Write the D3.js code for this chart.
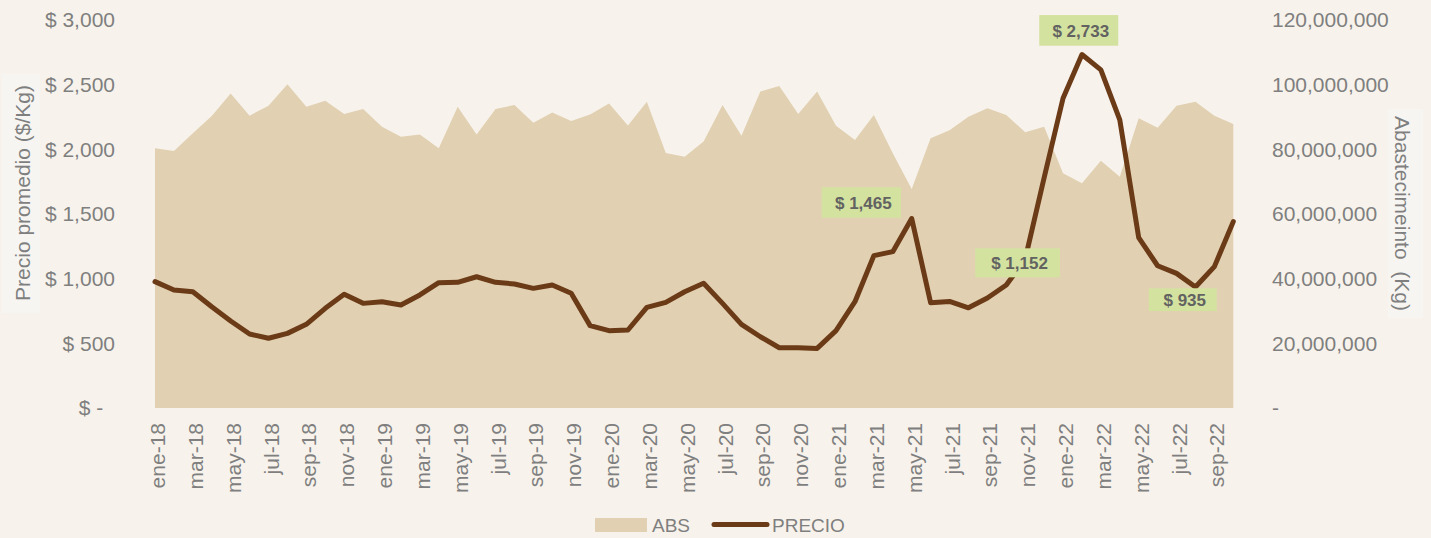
<!DOCTYPE html>
<html><head><meta charset="utf-8">
<script src="https://cdn.jsdelivr.net/npm/d3@7"></script>
<style>
body{margin:0;background:#f7f3ec;}
svg{display:block;font-family:"Liberation Sans",Arial,sans-serif;}
</style>
</head><body>
<svg id="c" width="1431" height="538"></svg>
<script>
// ---------- DATA ----------
const months = [
 "ene-18","feb-18","mar-18","abr-18","may-18","jun-18","jul-18","ago-18","sep-18","oct-18","nov-18","dic-18",
 "ene-19","feb-19","mar-19","abr-19","may-19","jun-19","jul-19","ago-19","sep-19","oct-19","nov-19","dic-19",
 "ene-20","feb-20","mar-20","abr-20","may-20","jun-20","jul-20","ago-20","sep-20","oct-20","nov-20","dic-20",
 "ene-21","feb-21","mar-21","abr-21","may-21","jun-21","jul-21","ago-21","sep-21","oct-21","nov-21","dic-21",
 "ene-22","feb-22","mar-22","abr-22","may-22","jun-22","jul-22","ago-22","sep-22","oct-22"];
const absKg = [
 80.3e6,79.5e6,85.0e6,90.3e6,97.3e6,90.4e6,93.5e6,100.1e6,93.2e6,95.0e6,90.9e6,92.5e6,
 87.0e6,83.9e6,84.6e6,80.3e6,93.2e6,84.6e6,92.5e6,93.7e6,88.2e6,91.4e6,88.8e6,90.8e6,
 94.2e6,87.4e6,94.7e6,78.9e6,77.7e6,82.4e6,93.7e6,84.2e6,97.9e6,99.6e6,90.9e6,97.9e6,
 87.3e6,82.9e6,90.6e6,78.8e6,67.7e6,83.4e6,85.9e6,90.1e6,92.7e6,90.6e6,85.3e6,87.0e6,
 72.6e6,69.5e6,76.5e6,71.5e6,89.6e6,86.7e6,93.5e6,94.7e6,90.4e6,87.8e6];
const precio = [
 977,912,899,783,673,572,539,577,647,771,879,809,
 822,796,874,969,972,1015,972,959,925,951,887,637,
 598,603,778,817,899,964,809,647,551,466,466,461,
 598,822,1178,1209,1465,814,824,775,850,951,1152,1780,
 2395,2733,2614,2227,1317,1100,1041,935,1093,1441];
const priceTicks = [0,500,1000,1500,2000,2500,3000];
const absTicks = [0,20e6,40e6,60e6,80e6,100e6,120e6];
const xTickLabels = months.filter((m,i)=>i%2===0);
const labelMonths = ["may-21","nov-21","feb-22","ago-22"];
const seriesNames = ["ABS","PRECIO"];
const yTitleLeft = "Precio promedio ($/Kg)";
const yTitleRight = "Abastecimeinto\u00a0\u00a0(Kg)";

// ---------- STYLE / LAYOUT ----------
const C = {bg:"#f7f3ec", area:"#e1d0b1", line:"#6b3a17", text:"#7f7f7f",
           labFill:"#d4e2a0", labText:"#626262", titleBox:"#f6f5f2"};
const labelBoxes = { // offsets of data-label boxes relative to their point
 "may-21":{x0:-90,x1:-10.7,y0:-31.2,y1:-0.8},
 "nov-21":{x0:-50,x1:34.7,y0:-10.7,y1:18.3},
 "feb-22":{x0:-42.7,x1:36.3,y0:-39.5,y1:-8.8},
 "ago-22":{x0:-46.7,x1:21.3,y0:1.2,y1:24}
};

const svg = d3.select("#c");
svg.append("rect").attr("width",1431).attr("height",538).attr("fill",C.bg);

const x = d3.scalePoint().domain(months).range([155,1233.3]);
const yP = d3.scaleLinear().domain([0,3000]).range([408,20]);
const yA = d3.scaleLinear().domain([0,120e6]).range([408,20]);

const data = months.map((m,i)=>({m, a:absKg[i], p:precio[i]}));

// area
svg.append("path").datum(data)
  .attr("d", d3.area().x(d=>x(d.m)).y0(yA(0)).y1(d=>yA(d.a)))
  .attr("fill", C.area);

// line
svg.append("path").datum(data)
  .attr("d", d3.line().x(d=>x(d.m)).y(d=>yP(d.p)))
  .attr("fill","none").attr("stroke",C.line).attr("stroke-width",5)
  .attr("stroke-linejoin","round").attr("stroke-linecap","round");

// left axis
const fmt = d3.format(",");
const gL = svg.append("g").attr("transform","translate(115,0)")
  .call(d3.axisLeft(yP).tickValues(priceTicks).tickSize(0).tickPadding(0)
    .tickFormat(v=> v===0 ? "$ -\u00a0\u00a0" : "$ "+fmt(v)));
gL.select(".domain").remove();
gL.selectAll("text").attr("font-size",21).attr("fill",C.text)
  .attr("font-family","'Liberation Sans',Arial,sans-serif");

// right axis
const gR = svg.append("g").attr("transform","translate(1272,0)")
  .call(d3.axisRight(yA).tickValues(absTicks).tickSize(0).tickPadding(0)
    .tickFormat(v=> v===0 ? "-" : fmt(v)));
gR.select(".domain").remove();
gR.selectAll("text").attr("font-size",21).attr("fill",C.text)
  .attr("font-family","'Liberation Sans',Arial,sans-serif");

// bottom axis
const gB = svg.append("g").attr("transform","translate(0,423)")
  .call(d3.axisBottom(x).tickValues(xTickLabels).tickSize(0).tickPadding(0));
gB.select(".domain").remove();
gB.selectAll("text").attr("font-size",21).attr("fill",C.text)
  .attr("font-family","'Liberation Sans',Arial,sans-serif")
  .attr("x",0).attr("y",0).attr("dy",0)
  .attr("text-anchor","end")
  .attr("transform","translate(9.5,0) rotate(-90)");

// data labels
labelMonths.forEach(m=>{
  const i = months.indexOf(m);
  const px = x(m), py = yP(precio[i]);
  const b = labelBoxes[m];
  svg.append("rect").attr("x",px+b.x0).attr("y",py+b.y0)
    .attr("width",b.x1-b.x0).attr("height",b.y1-b.y0).attr("fill",C.labFill);
  svg.append("text").attr("x",px+(b.x0+b.x1)/2+2).attr("y",py+(b.y0+b.y1)/2+1)
    .attr("text-anchor","middle").attr("dominant-baseline","central")
    .attr("font-size",17).attr("font-weight","bold").attr("fill",C.labText)
    .text("$ "+fmt(precio[i]));
});

// axis titles
svg.append("rect").attr("x",2).attr("y",74).attr("width",38).attr("height",239).attr("fill",C.titleBox);
svg.append("text").attr("transform","translate(30,193) rotate(-90)")
  .attr("text-anchor","middle").attr("font-size",21).attr("fill",C.text).text(yTitleLeft);
svg.append("rect").attr("x",1388).attr("y",109).attr("width",35).attr("height",209).attr("fill",C.titleBox);
svg.append("text").attr("transform","translate(1395,213.5) rotate(90)")
  .attr("text-anchor","middle").attr("font-size",21).attr("fill",C.text).text(yTitleRight);

// legend
const lg = svg.append("g");
lg.append("rect").attr("x",595).attr("y",518).attr("width",52).attr("height",14).attr("fill",C.area);
lg.append("text").attr("x",652).attr("y",525).attr("dominant-baseline","central")
  .attr("font-size",19).attr("fill",C.text).text(seriesNames[0]);
lg.append("line").attr("x1",714).attr("x2",767).attr("y1",524.5).attr("y2",524.5)
  .attr("stroke",C.line).attr("stroke-width",5).attr("stroke-linecap","round");
lg.append("text").attr("x",772).attr("y",525).attr("dominant-baseline","central")
  .attr("font-size",19).attr("fill",C.text).text(seriesNames[1]);
</script>
</body></html>
